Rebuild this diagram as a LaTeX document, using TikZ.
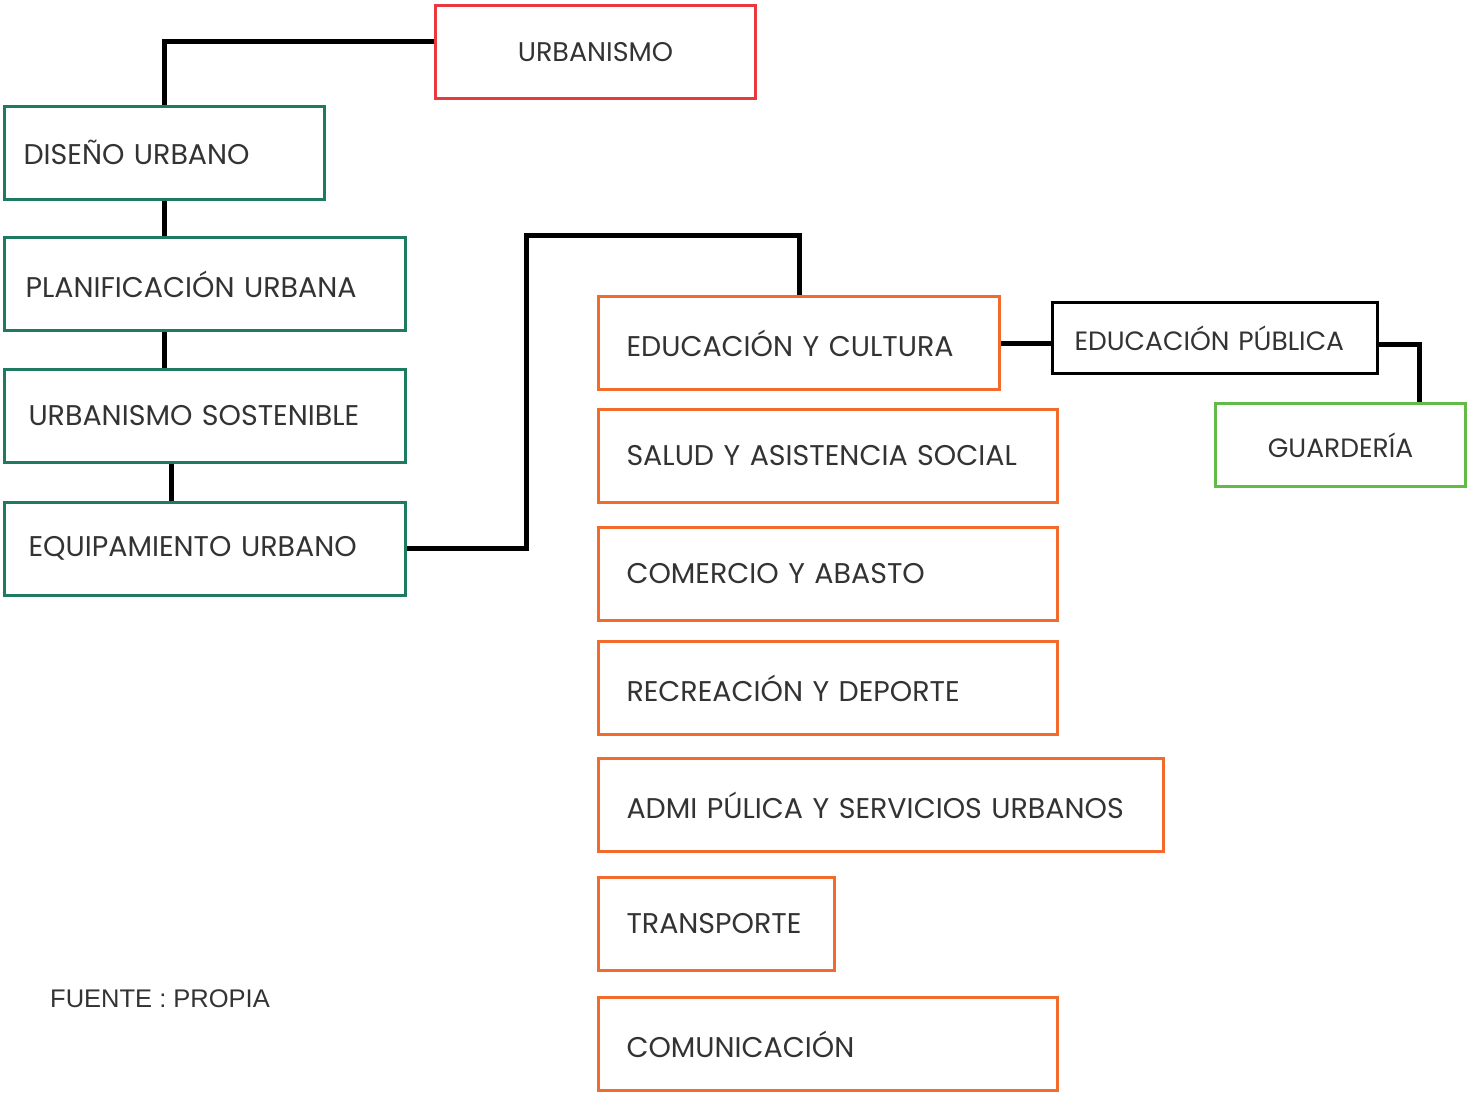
\documentclass[tikz,border=0pt]{standalone}
\usepackage{fontspec}
\setmainfont{Poppins}
\newfontfamily\arialfont{Liberation Sans}
\usetikzlibrary{positioning}
\definecolor{rojo}{HTML}{E8393F}
\definecolor{verdeosc}{HTML}{1E7B61}
\definecolor{naranja}{HTML}{F26B2D}
\definecolor{verde}{HTML}{62BB47}
\definecolor{texto}{HTML}{333333}
\tikzset{
  caja/.style={draw=#1, line width=3pt, fill=white, text=texto,
    font=\fontsize{28.5}{33}\selectfont, minimum height=93pt},
  izq/.style={text width=#1, align=left, inner xsep=24pt},
  enlace/.style={draw=black, line width=5pt},
}

\begin{document}
\begin{tikzpicture}[x=1pt,y=-1pt]
\useasboundingbox (0,0) rectangle (1470,1095);
% arbol principal
\node (urb) at (595.5,52) [caja=rojo, minimum width=320pt, font=\fontsize{27}{32}\selectfont] {URBANISMO};
\node (dis) at (164.5,152.5) [caja=verdeosc, izq=282pt, inner xsep=19pt] {DISEÑO URBANO};
\node (plan) at (205,284) [caja=verdeosc, izq=359pt, inner xsep=21pt] {PLANIFICACIÓN URBANA};
\node (sost) at (205,416) [caja=verdeosc, izq=353pt] {URBANISMO SOSTENIBLE};
\node (equip) at (205,548.5) [caja=verdeosc, izq=353pt] {EQUIPAMIENTO URBANO};
% equipamiento
\node (educ) at (799,343) [caja=naranja, izq=345pt, inner xsep=28pt] {EDUCACIÓN Y CULTURA};
\node (salud) at (828,456) [caja=naranja, izq=403pt, inner xsep=28pt] {SALUD Y ASISTENCIA SOCIAL};
\node (comer) at (828,574) [caja=naranja, izq=403pt, inner xsep=28pt] {COMERCIO Y ABASTO};
\node (recre) at (828,688) [caja=naranja, izq=403pt, inner xsep=28pt] {RECREACIÓN Y DEPORTE};
\node (admi) at (881,805) [caja=naranja, izq=509pt, inner xsep=28pt] {ADMI PÚLICA Y SERVICIOS URBANOS};
\node (trans) at (716.5,924) [caja=naranja, izq=180pt, inner xsep=28pt] {TRANSPORTE};
\node (comun) at (828,1044) [caja=naranja, izq=403pt, inner xsep=28pt] {COMUNICACIÓN};
% educacion
\node (edpub) at (1215,338) [caja=black, minimum height=71pt, izq=281pt, inner xsep=22pt,
  font=\fontsize{26.5}{30}\selectfont] {EDUCACIÓN PÚBLICA};
\node (guard) at (1340.5,445) [caja=verde, minimum width=250pt, minimum height=83pt,
  font=\fontsize{26.5}{30}\selectfont] {GUARDERÍA};
\node (fuente) at (50,999) [anchor=west, inner sep=0pt, text=texto,
  font=\arialfont\fontsize{25.5}{30}\selectfont] {FUENTE : PROPIA};
% enlaces
\coordinate (codo) at (526,235);
\draw [enlace] ([yshift=11pt]urb.west) -| (dis.north);
\draw [enlace] (dis.south) -- (dis.south |- plan.north);
\draw [enlace] (dis.south |- plan.south) -- (dis.south |- sost.north);
\draw [enlace] ([xshift=7pt]dis.south |- sost.south) -- ([xshift=7pt]dis.south |- equip.north);
\draw [enlace] (equip.east) -| (codo) -| (educ.north);
\draw [enlace] (educ.east) -- (educ.east -| edpub.west);
\draw [enlace] ([yshift=-6pt]edpub.east) -| ([xshift=79pt]guard.north);
\end{tikzpicture}
\end{document}
